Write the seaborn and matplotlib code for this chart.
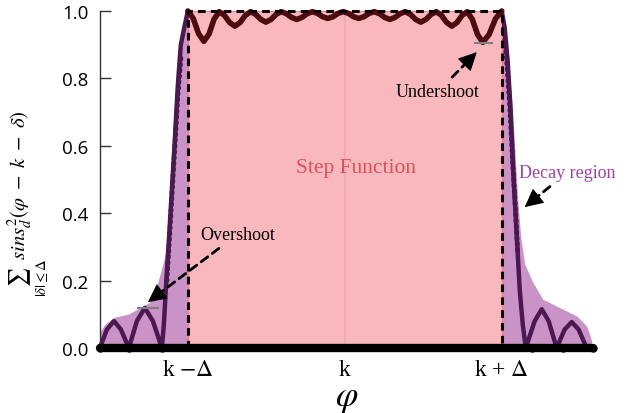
import numpy as np
import matplotlib
matplotlib.use("Agg")
import matplotlib.pyplot as plt
import seaborn as sns

sns.set_style("ticks")
plt.rcParams['mathtext.fontset'] = 'stix'

# --- data (k = 0, Delta = 1) ---
step_x = [-1.0, -1.0, 1.0, 1.0]
step_y = [0.0, 1.0, 1.0, 0.0]

# ringing of the reconstructed step near the top
ripple_x = [-1.00, -0.966, -0.932, -0.898, -0.865, -0.833, -0.80, -0.767, -0.734, -0.701,
            -0.667, -0.634, -0.60, -0.568, -0.535, -0.503, -0.470, -0.438, -0.405,
            -0.372, -0.339, -0.306, -0.273, -0.240, -0.207, -0.174, -0.141, -0.108,
            -0.075, -0.043, -0.01, 0.023, 0.056, 0.089, 0.122, 0.155, 0.188,
            0.221, 0.254, 0.287, 0.320, 0.352, 0.385, 0.418, 0.451, 0.484,
            0.517, 0.550, 0.583, 0.616, 0.649, 0.682, 0.715, 0.747, 0.78,
            0.813, 0.846, 0.879, 0.919, 0.96, 1.00]
ripple_y = [1.00, 0.978, 0.933, 0.910, 0.932, 0.976, 0.998, 0.987, 0.966, 0.955,
            0.966, 0.987, 0.998, 0.990, 0.975, 0.967, 0.975, 0.990, 0.998,
            0.992, 0.981, 0.975, 0.981, 0.992, 0.998, 0.993, 0.983, 0.978,
            0.983, 0.993, 0.998, 0.993, 0.983, 0.978, 0.983, 0.993, 0.998,
            0.992, 0.981, 0.975, 0.981, 0.992, 0.998, 0.990, 0.975, 0.967,
            0.975, 0.990, 0.998, 0.987, 0.966, 0.955, 0.966, 0.987, 0.998,
            0.975, 0.930, 0.907, 0.930, 0.977, 1.00]

# sinc^2 side lobes, left and right of the step
left_x = [-1.561, -1.516, -1.471, -1.427, -1.376, -1.325, -1.274, -1.223, -1.166,
          -1.153, -1.140, -1.121, -1.102, -1.083, -1.064, -1.045, -1.019, -1.0]
left_y = [0.0, 0.055, 0.08, 0.055, 0.0, 0.08, 0.119, 0.08, 0.0,
          0.07, 0.18, 0.32, 0.47, 0.62, 0.78, 0.90, 0.96, 1.0]
right_x = [1.0, 1.019, 1.038, 1.057, 1.076, 1.096, 1.115, 1.134, 1.153,
           1.21, 1.255, 1.299, 1.350, 1.401, 1.446, 1.490, 1.541, 1.580]
right_y = [1.0, 0.95, 0.85, 0.70, 0.50, 0.33, 0.17, 0.07, 0.0,
           0.08, 0.115, 0.08, 0.0, 0.055, 0.077, 0.055, 0.0, 0.0]

# dotted overlay on the steep parts
dot_left_x = [-1.045, -1.064, -1.083, -1.102, -1.121, -1.134]
dot_left_y = [0.86, 0.75, 0.60, 0.45, 0.30, 0.20]
dot_right_x = [1.013, 1.032, 1.051, 1.070, 1.089, 1.102]
dot_right_y = [0.95, 0.85, 0.72, 0.55, 0.40, 0.28]

# decay envelopes (filled)
env_left_x = [-1.561, -1.529, -1.465, -1.382, -1.318, -1.242, -1.191, -1.159, -1.134,
              -1.108, -1.089, -1.070, -1.051, -1.025, -1.0]
env_left_y = [0.047, 0.071, 0.092, 0.10, 0.116, 0.136, 0.196, 0.25, 0.30,
              0.42, 0.55, 0.70, 0.85, 0.95, 1.0]
env_right_x = [1.0, 1.032, 1.064, 1.083, 1.102, 1.121, 1.146, 1.197, 1.261,
               1.369, 1.478, 1.541, 1.561, 1.573]
env_right_y = [1.0, 0.89, 0.74, 0.59, 0.44, 0.33, 0.25, 0.196, 0.145,
               0.12, 0.095, 0.065, 0.04, 0.02]

# zeros marked on the baseline
base_x = [-1.561, 1.580]
zeros_x = [-1.561, -1.376, -1.166, 1.19, 1.39, 1.580]

overshoot = (-1.255, 0.119)
undershoot = (0.885, 0.905)

tick_pos = [-1, 0, 1]
tick_labels = [r'k $-\Delta$', 'k', r'k + $\Delta$']

pink = '#f9b8bd'
purple_fill = '#c993c8'
purple_line = '#4b1850'
maroon = '#4e0b10'

fig = plt.figure(figsize=(6.36, 4.14), dpi=100)
ax = fig.add_axes([0.157, 0.157, 0.775, 0.814])

ax.fill_between(env_left_x, 0, env_left_y, color=purple_fill, lw=0, zorder=1)
ax.fill_between(env_right_x, 0, env_right_y, color=purple_fill, lw=0, zorder=1)
ax.fill_between(step_x, 0, step_y, color=pink, edgecolor='#e8707a', lw=0.6, zorder=2)
ax.axvline(0, color='#e9a3a9', lw=1.5, alpha=0.6, zorder=2.5)

kw = dict(estimator=None, sort=False, ax=ax, legend=False)
sns.lineplot(x=left_x, y=left_y, color=purple_line, lw=3.2, zorder=3, **kw)
sns.lineplot(x=right_x, y=right_y, color=purple_line, lw=3.2, zorder=3, **kw)
sns.lineplot(x=dot_left_x, y=dot_left_y, color=purple_line, lw=3.5, ls=(0, (0.3, 0.9)),
             dash_capstyle='round', zorder=4, **kw)
sns.lineplot(x=dot_right_x, y=dot_right_y, color=purple_line, lw=3.5, ls=(0, (0.3, 0.9)),
             dash_capstyle='round', zorder=4, **kw)
sns.lineplot(x=ripple_x, y=ripple_y, color=maroon, lw=4.0, zorder=4,
             solid_joinstyle='round', **kw)
sns.lineplot(x=step_x, y=step_y, color='black', lw=2.2, ls=(0, (2.5, 1.7)), zorder=5, **kw)
for l in ax.lines:
    l.set_clip_on(False)

ax.plot(base_x, [0, 0], color='black', lw=6, solid_capstyle='round', clip_on=False, zorder=6)
ax.plot(zeros_x, [0] * len(zeros_x), 'o', color='black', ms=5, clip_on=False, zorder=6)

ax.hlines(overshoot[1], overshoot[0] - 0.07, overshoot[0] + 0.07, color='gray', lw=1.5, zorder=5)
ax.hlines(undershoot[1], undershoot[0] - 0.06, undershoot[0] + 0.06, color='gray', lw=1.5, zorder=5)

serif = 'Liberation Serif'
shaft = dict(arrowstyle='-', color='black', lw=2, linestyle=(0, (3, 2)), shrinkA=3, shrinkB=8)
head = dict(arrowstyle='-|>,head_length=0.9,head_width=0.45', color='black', lw=0.8,
            shrinkA=0, shrinkB=0, mutation_scale=13)


def pointer(label, tip, tail, color='black'):
    ax.annotate(label, xy=tip, xytext=tail, ha='center', va='center', fontsize=13,
                family=serif, color=color, arrowprops=shaft, zorder=7)
    near = (tip[0] + 0.12 * (tail[0] - tip[0]), tip[1] + 0.12 * (tail[1] - tip[1]))
    ax.annotate('', xy=tip, xytext=near, arrowprops=head, zorder=7)


pointer('Undershoot', (0.841, 0.878), (0.592, 0.760))
pointer('Overshoot', (-1.255, 0.136), (-0.682, 0.338))
pointer('Decay region', (1.146, 0.418), (1.42, 0.522), color='#a23ea3')
ax.text(0.07, 0.537, 'Step Function', ha='center', va='center', fontsize=15.5,
        family=serif, color='#d9525f', zorder=7)

ax.set_xlim(-1.561, 1.58)
ax.set_ylim(0, 1.0)
ax.set_xticks(tick_pos)
ax.set_xticklabels(tick_labels, family=serif, fontsize=17)
ax.set_yticks([0, 0.2, 0.4, 0.6, 0.8, 1.0])
ax.set_yticklabels(['0.0', '0.2', '0.4', '0.6', '0.8', '1.0'], family='Open Sans', fontsize=13.5)
ax.tick_params(axis='x', length=0, pad=8, labelcolor='black')
ax.tick_params(axis='y', direction='in', length=8, width=1, color='#333333', pad=8,
               labelcolor='black')
sns.despine(ax=ax, top=True, right=True)
ax.spines['bottom'].set_visible(False)
ax.spines['left'].set_color('#333333')
ax.spines['left'].set_linewidth(1)

ax.set_xlabel(r'$\varphi$', fontsize=26, labelpad=0, color='black')
ax.set_ylabel(r'$\sum_{|\delta|\leq\Delta} sins_d^2(\varphi\ -\ k\ -\ \delta)$', fontsize=15,
              color='black')
ax.yaxis.set_label_coords(-0.10, 0.43)

fig.savefig('out.png', dpi=100)
